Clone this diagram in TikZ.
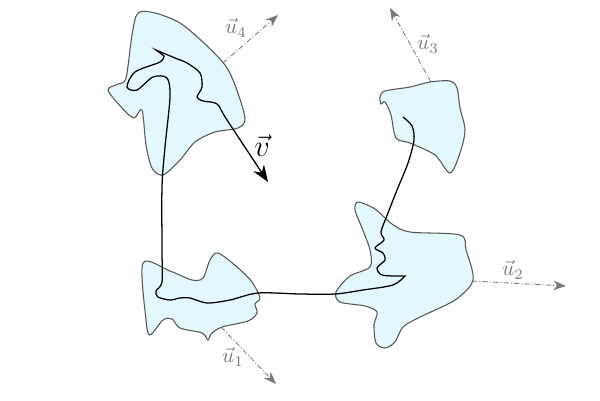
\documentclass[tikz,border=0pt]{standalone}
\usetikzlibrary{arrows.meta}
\definecolor{blobfill}{RGB}{226,248,252}
\definecolor{blobline}{RGB}{85,85,85}
\definecolor{dirgray}{RGB}{120,120,120}

\begin{document}
\begin{tikzpicture}[x=0.016667cm, y=-0.016667cm,
  blob/.style={draw=blobline, fill=blobfill, line width=0.5pt},
  dir/.style={draw=dirgray, line width=0.4pt, dash pattern=on 2.5pt off 1pt on 0.5pt off 1pt,
    -{Stealth[length=6pt,width=4.5pt]}},
  dirlabel/.style={text=dirgray},
  track/.style={line width=0.6pt, -{Stealth[length=8pt,width=6pt]}}]
\useasboundingbox (0,0) rectangle (600,400);

% start and end points of the directions
\coordinate (S1) at (221,327);
\coordinate (E1) at (276,384);
\coordinate (S2) at (472,281);
\coordinate (E2) at (566,286);
\coordinate (S3) at (431,82);
\coordinate (E3) at (390,8);
\coordinate (S4) at (223,63);
\coordinate (E4) at (278,15);

\draw[dir] (S1) -- (E1);
\draw[dir] (S2) -- (E2);
\draw[dir] (S3) -- (E3);
\draw[dir] (S4) -- (E4);

% the four regions
\draw[blob] plot[smooth cycle] coordinates {(143,263) (170,271) (192,280) (203,278)
  (210,260) (218,253) (237,267) (252,282) (260,298) (255,304) (257,313) (248,321)
  (222,327) (211,334) (208,340) (202,333) (180,328) (172,319) (163,320) (150,335)
  (146,320)};
\draw[blob] plot[smooth cycle] coordinates {(358,202) (375,209) (392,224) (410,232)
  (460,235) (466,250) (473,280) (455,300) (420,317) (403,327) (395,342)
  (385,348) (376,343) (374,325) (377,312) (365,306) (340,302) (336,292) (350,276)
  (370,267) (370,250) (362,228) (355,210)};
\draw[blob] plot[smooth cycle] coordinates {(385,91) (410,87) (430,82) (450,81)
  (457,88) (460,108) (465,130) (460,153) (450,173) (435,155) (410,143) (396,138)
  (391,115) (385,102) (381,104) (380,97)};
\draw[blob] plot[smooth cycle] coordinates {(138,13) (155,13) (180,23) (205,44) (225,65)
  (235,85) (245,118) (238,128) (215,132) (195,142) (180,160) (163,175) (152,168)
  (146,145) (142,110) (134,118) (122,108) (108,90) (118,84) (126,78) (132,35)};

% the track
\draw[track] plot[smooth] coordinates {(403,117) (412,126) (414,140) (408,163) (397,190)
  (388,213) (381,232) (384,240) (375,248) (383,253) (385,260) (377,268) (382,275) (398,276)
  (405,276)}
  -- plot[smooth] coordinates {(405,276) (393,285) (363,290) (335,294) (300,294) (258,293)
  (230,300) (207,303) (190,298) (180,298) (170,300) (158,297) (156,291) (162,282) (162,250)
  (162,187) (165,147) (170,97) (167,78) (153,77) (137,90) (127,87) (135,72) (160,62) (164,56)}
  -- plot[smooth] coordinates {(164,56) (156,50)}
  -- plot[smooth] coordinates {(156,50) (175,58) (187,63) (200,73) (202,87) (197,97) (203,101)
  (217,104) (227,120) (268,182)};

% labels
\node[dirlabel] (L1) at (233,357) {$\vec{u}_1$};
\node[dirlabel] (L2) at (513,270) {$\vec{u}_2$};
\node[dirlabel] (L3) at (428,44) {$\vec{u}_3$};
\node[dirlabel] (L4) at (236,28) {$\vec{u}_4$};
\node (V) at (262,146) {\Large $\vec{v}$};
\end{tikzpicture}
\end{document}
